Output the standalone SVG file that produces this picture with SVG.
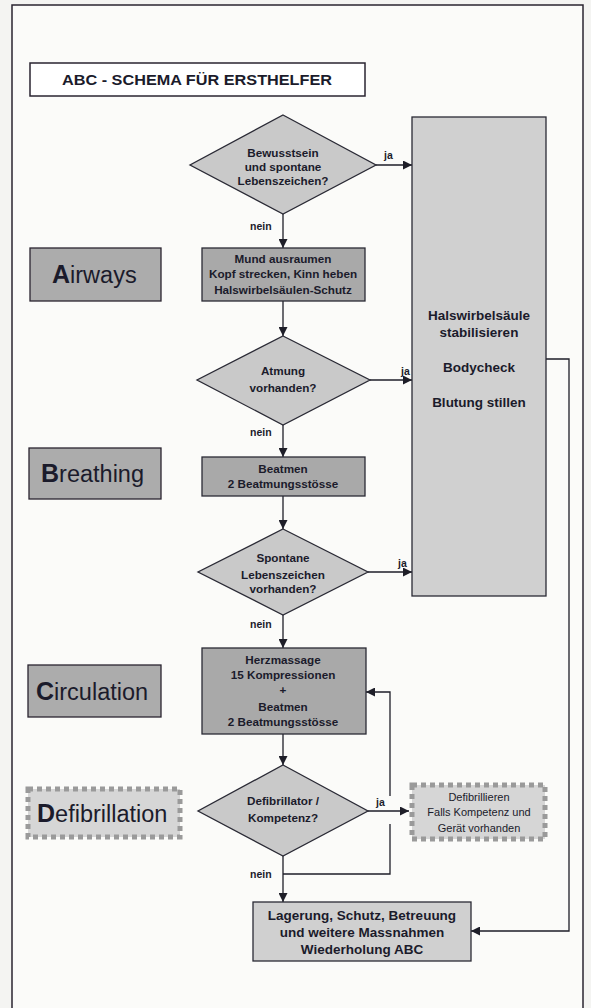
<svg xmlns="http://www.w3.org/2000/svg" width="591" height="1008" viewBox="0 0 591 1008">
<style>
.frame{fill:#fbfbf9;stroke:#2a2430;stroke-width:1.5}
.dia{fill:#c9c9c9;stroke:#2a2a35;stroke-width:1.3}
.proc{fill:#a9a9a9;stroke:#2a2a35;stroke-width:1.3}
.light{fill:#d0d0d0;stroke:#2a2a35;stroke-width:1.3}
.lab{fill:#acacac;stroke:#2a2430;stroke-width:1.3}
.dash{fill:#d6d6d6;stroke:#9a9a9a;stroke-width:5;stroke-dasharray:5 4}
.t{font-family:"Liberation Sans",Arial,sans-serif;font-weight:bold;font-size:11.7px;fill:#1b1b2b;text-anchor:middle}
.tb{font-family:"Liberation Sans",Arial,sans-serif;font-weight:bold;font-size:13.5px;fill:#1b1b2b;text-anchor:middle}
.tn{font-family:"Liberation Sans",Arial,sans-serif;font-size:11px;fill:#1b1b2b;text-anchor:middle}
.big{font-family:"Liberation Sans",Arial,sans-serif;font-size:23.5px;fill:#1b1b2b}
.big tspan.first{font-weight:bold}
.lbl{font-family:"Liberation Sans",Arial,sans-serif;font-weight:bold;font-size:10.5px;fill:#1b1b2b}
.con{fill:none;stroke:#1e1e28;stroke-width:1.3}
</style>
<defs>
<marker id="ah" viewBox="0 0 10 10" refX="10" refY="5" markerWidth="10" markerHeight="9" markerUnits="userSpaceOnUse" orient="auto">
<path d="M0,0 L10,5 L0,10 z" fill="#1e1e28"/>
</marker>
</defs>
<rect x="0" y="0" width="591" height="1008" fill="#f4f4f2"/>
<g id="frame">
<rect class="frame" x="12" y="5" width="571" height="1010"/>
</g>
<g id="title">
<rect x="30" y="63" width="335" height="33" fill="#ffffff" stroke="#2a2430" stroke-width="1.5"/>
<text x="62" y="85" font-family="Liberation Sans, Arial, sans-serif" font-size="15" font-weight="bold" fill="#1b1b2b" textLength="270" lengthAdjust="spacingAndGlyphs">ABC - SCHEMA FÜR ERSTHELFER</text>
</g>
<g id="label-airways">
<rect class="lab" x="30" y="248" width="131" height="53"/>
<text class="big" x="52" y="283"><tspan class="first" font-size="25">A</tspan>irways</text>
</g>
<g id="label-breathing">
<rect class="lab" x="29" y="448" width="132" height="51"/>
<text class="big" x="41" y="482"><tspan class="first" font-size="25">B</tspan>reathing</text>
</g>
<g id="label-circulation">
<rect class="lab" x="28" y="665" width="133" height="52"/>
<text class="big" x="36" y="700"><tspan class="first" font-size="25">C</tspan>irculation</text>
</g>
<g id="label-defibrillation">
<rect class="dash" x="28" y="789" width="152" height="48"/>
<text class="big" x="37" y="822"><tspan class="first" font-size="25">D</tspan>efibrillation</text>
</g>
<g id="connectors">
<path class="con" d="M283,214 V248" marker-end="url(#ah)"/>
<path class="con" d="M376,165 H412" marker-end="url(#ah)"/>
<path class="con" d="M283,301 V336" marker-end="url(#ah)"/>
<path class="con" d="M370,380 H412" marker-end="url(#ah)"/>
<path class="con" d="M283,425 V457" marker-end="url(#ah)"/>
<path class="con" d="M283,496 V529" marker-end="url(#ah)"/>
<path class="con" d="M368,572 H412" marker-end="url(#ah)"/>
<path class="con" d="M283,615 V648" marker-end="url(#ah)"/>
<path class="con" d="M283,734 V765" marker-end="url(#ah)"/>
<path class="con" d="M368,811 H409" marker-end="url(#ah)"/>
<path class="con" d="M283,856 V902" marker-end="url(#ah)"/>
<path class="con" d="M283,874 H390 V824"/>
<path class="con" d="M390,796 V692 H366" marker-end="url(#ah)"/>
<path class="con" d="M546,359 H569 V931 H471" marker-end="url(#ah)"/>
<text class="lbl" x="384" y="159">ja</text>
<text class="lbl" x="401" y="375">ja</text>
<text class="lbl" x="398" y="567">ja</text>
<text class="lbl" x="376" y="806">ja</text>
<text class="lbl" x="250" y="230">nein</text>
<text class="lbl" x="250" y="436">nein</text>
<text class="lbl" x="250" y="628">nein</text>
<text class="lbl" x="250" y="878">nein</text>
</g>
<g id="d1">
<polygon class="dia" points="283,115 376,165 283,214 190,165"/>
<text class="t" x="283" y="157">Bewusstsein</text>
<text class="t" x="283" y="171">und spontane</text>
<text class="t" x="283" y="185">Lebenszeichen?</text>
</g>
<g id="bodycheck">
<rect class="light" x="412" y="117" width="134" height="479"/>
<text class="tb" x="479" y="320">Halswirbelsäule</text>
<text class="tb" x="479" y="337">stabilisieren</text>
<text class="tb" x="479" y="372">Bodycheck</text>
<text class="tb" x="479" y="407">Blutung stillen</text>
</g>
<g id="airways-box">
<rect class="proc" x="202" y="248" width="163" height="53"/>
<text class="t" x="283" y="263">Mund ausraumen</text>
<text class="t" x="283" y="278">Kopf strecken, Kinn heben</text>
<text class="t" x="283" y="294">Halswirbelsäulen-Schutz</text>
</g>
<g id="d2">
<polygon class="dia" points="283,336 370,380 283,425 197,380"/>
<text class="t" x="283" y="375">Atmung</text>
<text class="t" x="283" y="392">vorhanden?</text>
</g>
<g id="beatmen">
<rect class="proc" x="202" y="457" width="163" height="39"/>
<text class="t" x="283" y="473">Beatmen</text>
<text class="t" x="283" y="488">2 Beatmungsstösse</text>
</g>
<g id="d3">
<polygon class="dia" points="283,529 368,572 283,615 198,572"/>
<text class="t" x="283" y="562">Spontane</text>
<text class="t" x="283" y="579">Lebenszeichen</text>
<text class="t" x="283" y="593">vorhanden?</text>
</g>
<g id="herzmassage">
<rect class="proc" x="202" y="648" width="164" height="86"/>
<text class="t" x="283" y="664">Herzmassage</text>
<text class="t" x="283" y="679">15 Kompressionen</text>
<text class="t" x="283" y="694">+</text>
<text class="t" x="283" y="711">Beatmen</text>
<text class="t" x="283" y="726">2 Beatmungsstösse</text>
</g>
<g id="d4">
<polygon class="dia" points="283,765 368,811 283,856 198,811"/>
<text class="t" x="283" y="805">Defibrillator /</text>
<text class="t" x="283" y="822">Kompetenz?</text>
</g>
<g id="defibrillieren">
<rect class="dash" x="412" y="785" width="133" height="54"/>
<text class="tn" x="479" y="801">Defibrillieren</text>
<text class="tn" x="479" y="816">Falls Kompetenz und</text>
<text class="tn" x="479" y="832">Gerät vorhanden</text>
</g>
<g id="final">
<rect class="light" x="253" y="902" width="218" height="59"/>
<text class="tb" x="362" y="920">Lagerung, Schutz, Betreuung</text>
<text class="tb" x="362" y="937">und weitere Massnahmen</text>
<text class="tb" x="362" y="954">Wiederholung ABC</text>
</g>
</svg>
